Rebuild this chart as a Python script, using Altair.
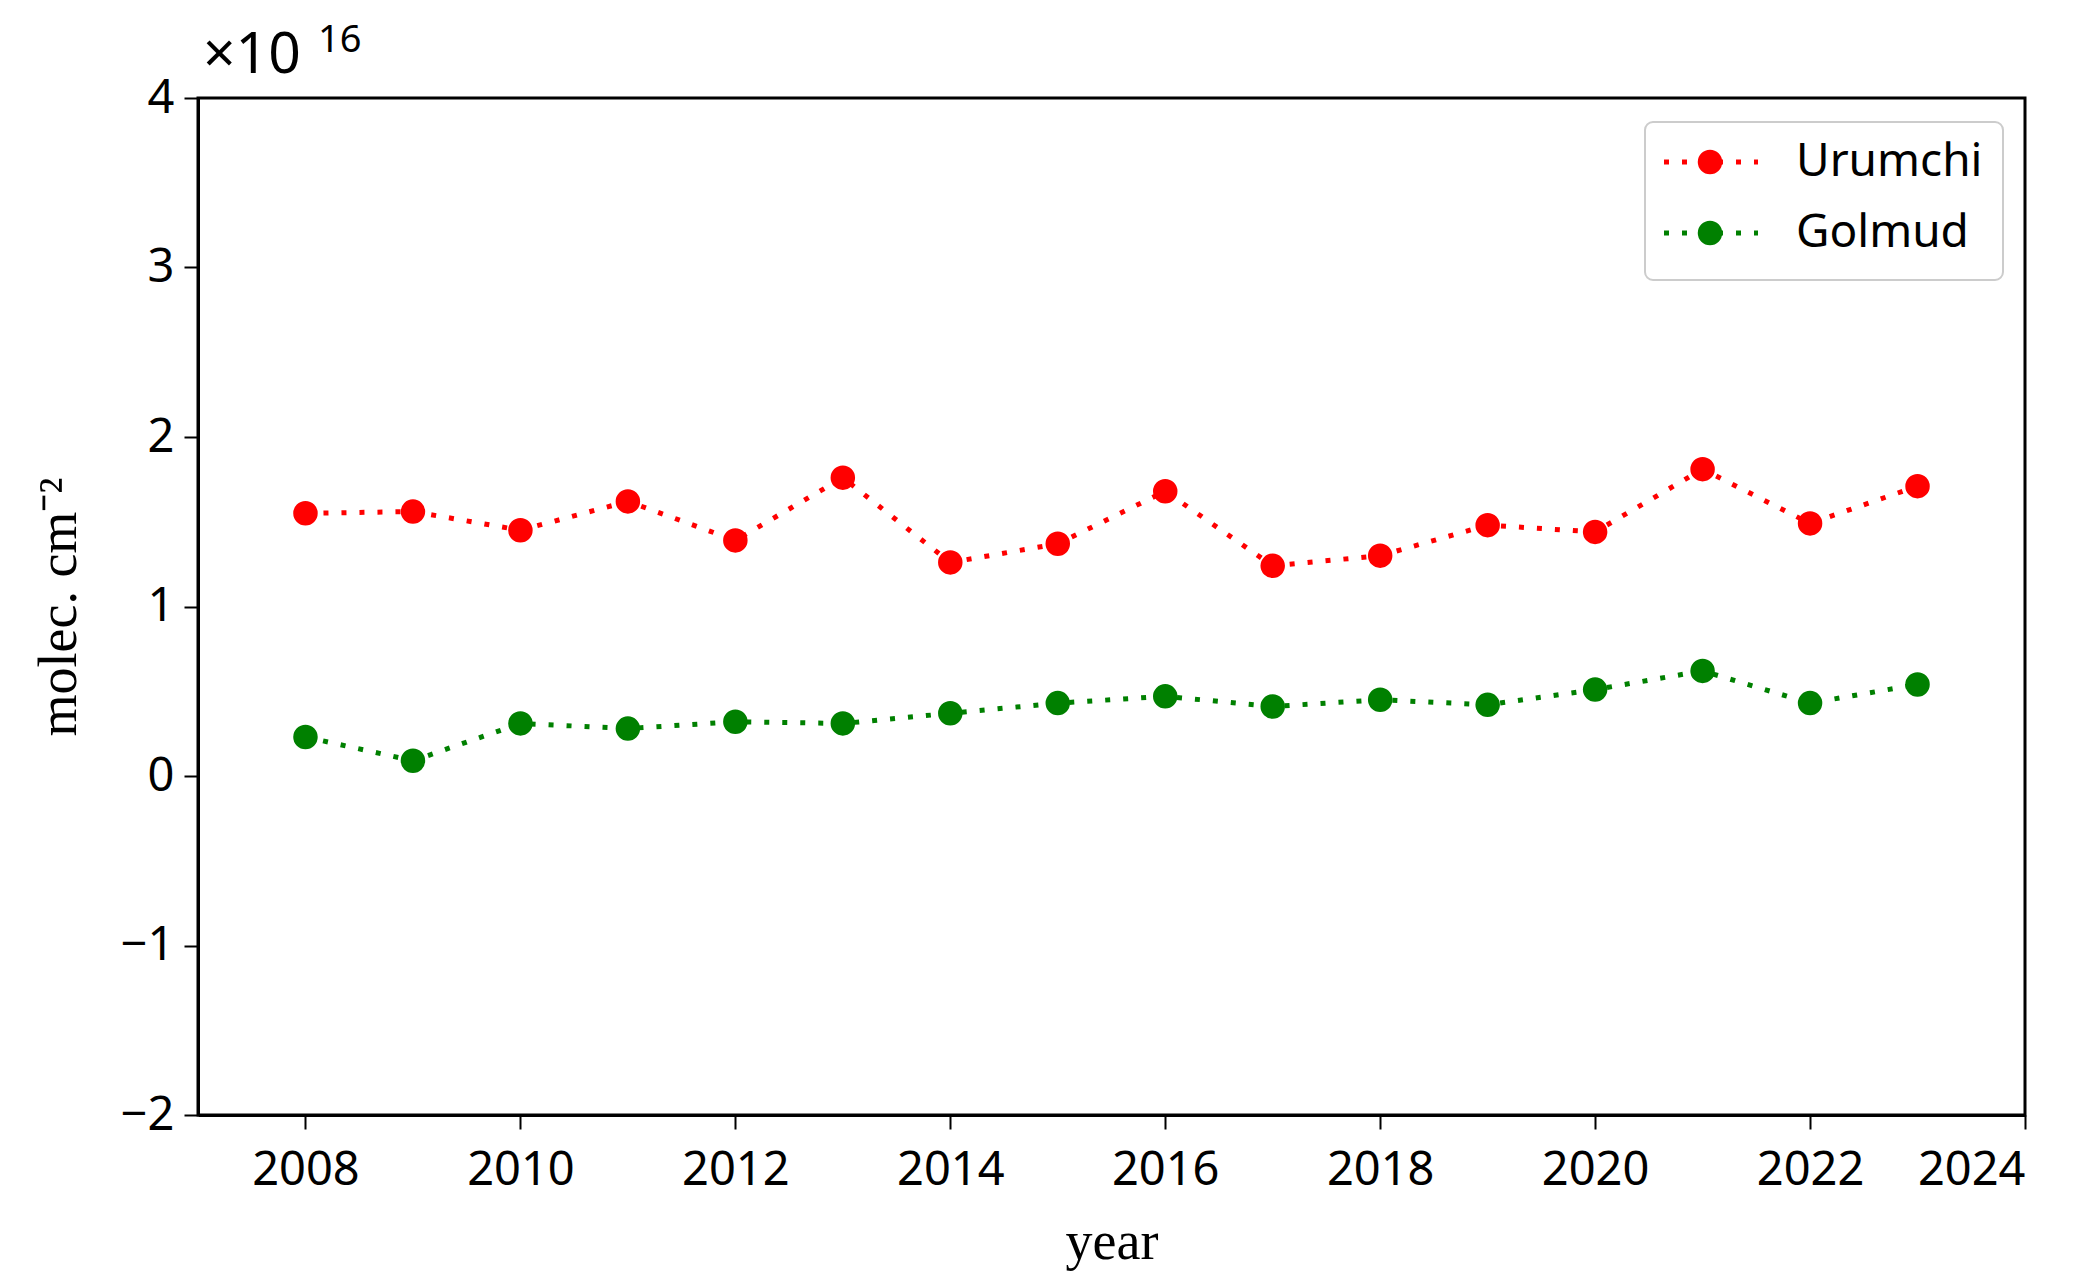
import altair as alt
import pandas as pd

years = list(range(2008, 2024))
urumchi = [1.55, 1.56, 1.45, 1.62, 1.39, 1.76, 1.26, 1.37, 1.68, 1.24, 1.30, 1.48, 1.44, 1.81, 1.49, 1.71]
golmud = [0.23, 0.09, 0.31, 0.28, 0.32, 0.31, 0.37, 0.43, 0.47, 0.41, 0.45, 0.42, 0.51, 0.62, 0.43, 0.54]
series_names = ["Urumchi", "Golmud"]
series_colors = ["#ff0000", "#008000"]
x_ticks = list(range(2008, 2025, 2))
y_ticks = [-2, -1, 0, 1, 2, 3, 4]

rows = []
for name, vals in zip(series_names, [urumchi, golmud]):
    for yr, v in zip(years, vals):
        rows.append({"year": yr, "value": v, "series": name})
df = pd.DataFrame(rows)

SANS = "Noto Sans"
SERIF = "Liberation Serif"
W, H = 1827, 1017

color = alt.Color("series:N", scale=alt.Scale(domain=series_names, range=series_colors), legend=None)
xenc = alt.X("year:Q", scale=alt.Scale(domain=[2007, 2024], nice=False, zero=False),
             axis=alt.Axis(values=x_ticks, format="d", title="year", grid=False))
yenc = alt.Y("value:Q", scale=alt.Scale(domain=[-2, 4], nice=False),
             axis=alt.Axis(values=y_ticks, format="d", title="molec. cm⁻²", grid=False))

base = alt.Chart(df)
lines = base.mark_line(strokeDash=[5, 13], strokeWidth=5, strokeCap="butt").encode(
    x=xenc, y=yenc, color=color, detail="series:N")
points = base.mark_circle(size=600, opacity=1).encode(x="year:Q", y="value:Q", color=color)

one = pd.DataFrame({"k": [0]})
exp_main = alt.Chart(one).mark_text(text="×10", font=SANS, fontSize=57, align="left", baseline="alphabetic").encode(
    x=alt.value(5), y=alt.value(-25))
exp_sup = alt.Chart(one).mark_text(text="16", font=SANS, fontSize=38, align="left", baseline="alphabetic").encode(
    x=alt.value(120), y=alt.value(-46))

legend_box = alt.Chart(one).mark_rect(fill="white", stroke="#cccccc", strokeWidth=2, cornerRadius=8).encode(
    x=alt.value(1447), x2=alt.value(1805), y=alt.value(24), y2=alt.value(182))

legend_layers = [legend_box]
row_y = [64, 135]
for name, col, yy in zip(series_names, series_colors, row_y):
    ld = pd.DataFrame({"series": [name]})
    legend_layers.append(alt.Chart(ld).mark_rule(color=col, strokeDash=[5, 13], strokeWidth=5, strokeCap="butt").encode(
        x=alt.value(1466), x2=alt.value(1560), y=alt.value(yy)))
    legend_layers.append(alt.Chart(ld).mark_circle(color=col, size=600, opacity=1).encode(
        x=alt.value(1512), y=alt.value(yy)))
    legend_layers.append(alt.Chart(ld).mark_text(font=SANS, fontSize=46, align="left", baseline="middle", color="black").encode(
        text="series:N", x=alt.value(1598), y=alt.value(yy)))

chart = alt.layer(lines, points, exp_main, exp_sup, *legend_layers).properties(
    width=W, height=H,
    autosize=alt.AutoSizeParams(type="none"),
    padding={"left": 190, "top": 90, "right": 60, "bottom": 166},
).configure_view(stroke="black", strokeWidth=3).configure_axis(
    domainColor="black", domainWidth=3, tickColor="black", tickWidth=2, tickSize=14,
    labelFont=SANS, labelFontSize=47, labelColor="black", labelPadding=10,
    titleFont=SERIF, titleFontSize=54, titleColor="black", titleFontWeight="normal",
).configure_axisX(labelPadding=18, titlePadding=22).configure_axisY(titlePadding=34)

chart.save("out.html", embed_options={"renderer": "svg", "actions": False})
